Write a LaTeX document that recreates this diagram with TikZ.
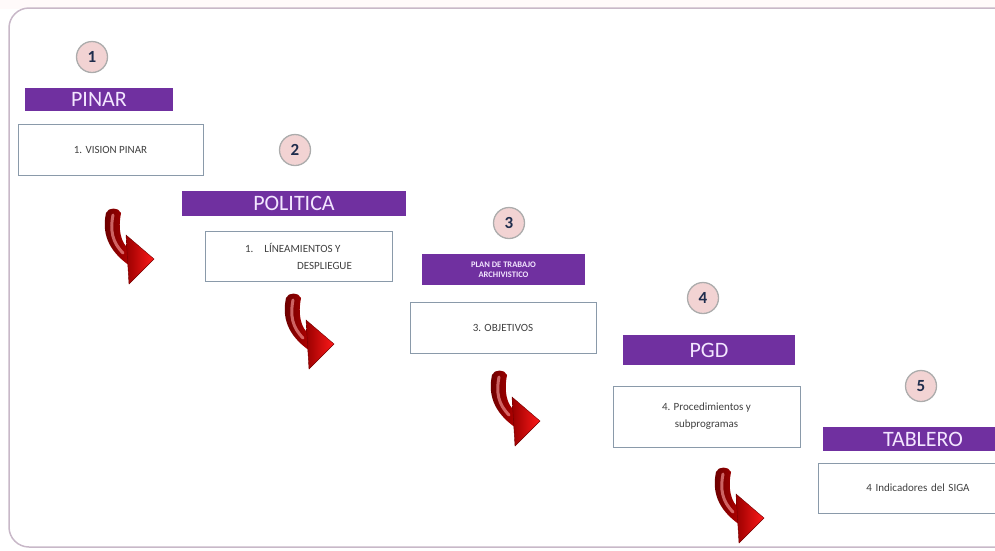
\documentclass[tikz,border=0pt]{standalone}
\usepackage{fontspec}
\setmainfont{Carlito}
\definecolor{morado}{HTML}{7030A0}
\definecolor{lila}{HTML}{F3E6FF}
\definecolor{rosa}{HTML}{F2D3D3}
\definecolor{tinta}{HTML}{1F2D4D}
\definecolor{borde}{HTML}{8A9AAA}
\definecolor{marco}{HTML}{C8B8C8}
\tikzset{
  flecha/.pic={
    % cuerpo
    \shade[left color=red!40!black, right color=red!70!black]
      (-7,3) .. controls (-11,22) and (-6,40) .. (17,56)
      -- (17,40) .. controls (7,33) and (5,18) .. (8,3)
      .. controls (6,-3) and (-5,-3) .. (-7,3) -- cycle;
    \draw[line width=3pt, red!35!white, opacity=.6, line cap=round]
      (0,5) .. controls (-3,20) and (-1,32) .. (10,43);
    % punta
    \shade[left color=red!60!black, right color=red!90!white, draw=red!45!black, line width=.4pt]
      (13,25) -- (41,49) -- (16,74) -- cycle;
  }
}

\begin{document}
\begin{tikzpicture}[x=1pt, y=-1pt,
    numero/.style={circle, draw=gray!65, line width=1.3pt, fill=rosa, text=tinta,
      minimum size=31pt, inner sep=0pt, font=\fontsize{17}{17}\selectfont\bfseries},
    barra/.style={rectangle, fill=morado, text=lila, inner sep=0pt,
      font=\fontsize{22}{22}\selectfont},
    caja/.style={rectangle, draw=borde, line width=.8pt, fill=white, text=black!75,
      inner sep=0pt, align=center, font=\fontsize{11}{17}\selectfont}]
    \useasboundingbox (0,0) rectangle (995,550);
    \clip (0,0) rectangle (995,550);
    \fill[pink!8] (0,0) rectangle (995,9);

    % Marco
    \draw[marco, line width=1.5pt, rounded corners=20pt] (9,8) rectangle (1020,547);

    % Paso 1
    \node[numero] (n1) at (92,57) {1};
    \node[barra, minimum width=148pt, minimum height=23pt] (pinar) at (99,99.5) {PINAR};
    \node[caja, minimum width=185pt, minimum height=51pt] (vision) at (110.5,149.5) {1. VISION PINAR};

    % Paso 2
    \node[numero] (n2) at (295,150) {2};
    \node[barra, minimum width=224pt, minimum height=25pt] (politica) at (294,203.5) {POLITICA};
    \node[caja, minimum width=187pt, minimum height=50pt, align=left] (lineamientos) at (298.5,256)
      {1.\hspace{1em}LÍNEAMIENTOS Y\\\hspace*{52pt}DESPLIEGUE};

    % Paso 3
    \node[numero] (n3) at (509,223) {3};
    \node[barra, minimum width=163pt, minimum height=31pt, align=center,
      font=\fontsize{8.5}{10.5}\selectfont\bfseries] (plan) at (503.5,269.5) {PLAN DE TRABAJO\\ARCHIVISTICO};
    \node[caja, minimum width=186pt, minimum height=51pt] (objetivos) at (503,327.5) {3. OBJETIVOS};

    % Paso 4
    \node[numero] (n4) at (703,298) {4};
    \node[barra, minimum width=172pt, minimum height=30pt] (pgd) at (709,350) {PGD};
    \node[caja, minimum width=187pt, minimum height=61pt] (procedimientos) at (706.5,416.5)
      {4. Procedimientos y\\subprogramas};

    % Paso 5
    \node[numero] (n5) at (921,386) {5};
    \node[barra, minimum width=200pt, minimum height=24pt, text width=160pt, align=center]
      (tablero) at (923,439) {TABLERO};
    \node[caja, minimum width=200pt, minimum height=50pt, text width=170pt]
      (indicadores) at (918,488) {4 Indicadores del SIGA};

    % Flechas curvas
    \pic at (113,210) {flecha};
    \pic at (293,295) {flecha};
    \pic at (499,372) {flecha};
    \pic at (723,469) {flecha};
\end{tikzpicture}
\end{document}
